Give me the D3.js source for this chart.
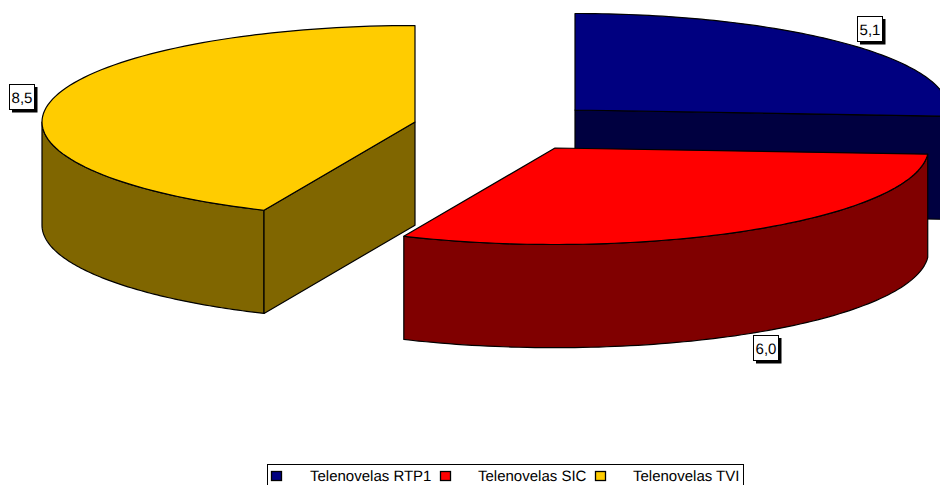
<!DOCTYPE html>
<html><head><meta charset="utf-8">
<script src="https://cdn.jsdelivr.net/npm/d3@7/dist/d3.min.js"></script>
<style>html,body{margin:0;padding:0;background:#fff;overflow:hidden}svg{display:block}text{font-family:"Liberation Sans",Arial,sans-serif;fill:#000;text-rendering:geometricPrecision}</style>
</head><body><div id="c"></div>
<script>
const categories = ["Telenovelas RTP1","Telenovelas SIC","Telenovelas TVI"];
const values = [5.1,6.0,8.5];
const valueLabels = ["5,1","6,0","8,5"];
const topColors = ["#000080","#ff0000","#ffcc00"];
const sideColors = ["#000040","#800000","#806600"];
const centers = [[575,110],[555,148],[415,122]];
const radiiX = [373.5,373.5,373];
const radiusY = 96.5, depth = 103.2;
const labelBoxes = [[857,16],[753,335],[9,84]];
const legendX = [271,440,595], legendTextX = [310,478,633];

const svg = d3.select("#c").append("svg").attr("width",940).attr("height",485);
const arcs = d3.pie().sort(null).value(d=>d)(values);
const pt = (i,a,dz=0)=>[centers[i][0]+radiiX[i]*Math.sin(a), centers[i][1]-radiusY*Math.cos(a)+dz];
const line = d3.line();
const samples = (a0,a1)=>{const n=90;return d3.range(n+1).map(k=>a0+(a1-a0)*k/n);};
const face = (pts,fill)=>svg.append("path").attr("d",line(pts)+"Z").attr("fill",fill)
  .attr("stroke","#000").attr("stroke-width",1.2).attr("stroke-linejoin","round");

// TVI, RTP1 first, SIC in front of RTP1
[2,0,1].forEach(i=>{
  const {startAngle:s,endAngle:e}=arcs[i];
  const c=centers[i];
  const cd=[c[0],c[1]+depth];
  // outer wall (only the visible front half, pi/2..3pi/2)
  const w0=Math.max(s,Math.PI/2), w1=Math.min(e,3*Math.PI/2);
  if(w1>w0){
    const a=samples(w0,w1);
    face(a.map(t=>pt(i,t)).concat(a.slice().reverse().map(t=>pt(i,t,depth))),sideColors[i]);
  }
  // cut faces that look towards the viewer
  if(i===0) face([c,pt(i,e),pt(i,e,depth),cd],sideColors[i]);
  if(i===2) face([c,pt(i,s),pt(i,s,depth),cd],sideColors[i]);
  face([c].concat(samples(s,e).map(t=>pt(i,t))),topColors[i]);
});

// value labels
valueLabels.forEach((t,i)=>{
  const [x,y]=labelBoxes[i];
  svg.append("rect").attr("x",x+3).attr("y",y+3).attr("width",25.5).attr("height",25.5).attr("fill","#000");
  svg.append("rect").attr("x",x+.5).attr("y",y+.5).attr("width",25).attr("height",25).attr("fill","#fff").attr("stroke","#000").attr("stroke-width",1);
  svg.append("text").attr("x",x+13).attr("y",y+18.5).attr("text-anchor","middle").attr("font-size",15).text(t);
});

// legend
svg.append("rect").attr("x",267.5).attr("y",464.5).attr("width",476).attr("height",30).attr("fill","#fff").attr("stroke","#000");
categories.forEach((t,i)=>{
  svg.append("rect").attr("x",legendX[i]+.5).attr("y",471.5).attr("width",10).attr("height",9).attr("fill",topColors[i]).attr("stroke","#000").attr("stroke-width",1.3);
  svg.append("text").attr("x",legendTextX[i]).attr("y",481).attr("font-size",15).text(t);
});
</script></body></html>
